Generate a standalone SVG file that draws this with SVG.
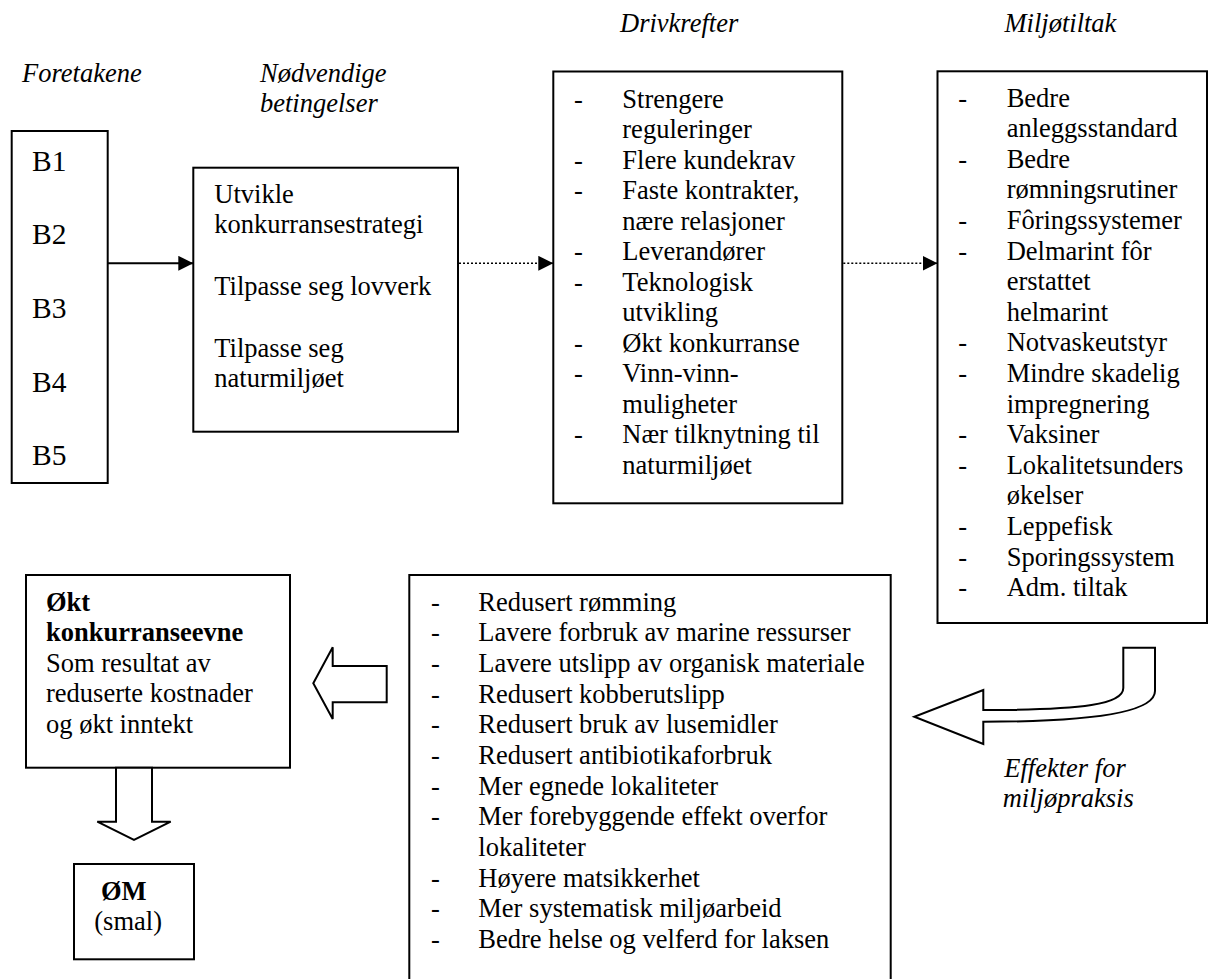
<svg xmlns="http://www.w3.org/2000/svg" width="1208" height="979" viewBox="0 0 1208 979">
<defs>
<style>
text{font-family:'Liberation Serif','Tinos','Times New Roman',Times,'DejaVu Serif',serif;font-size:26.5px;fill:#000}
.it{font-style:italic}
.b{font-weight:bold}
.big{font-size:29.5px}
.box{fill:#fff;stroke:#000;stroke-width:2}
.solid{stroke:#000;stroke-width:2;fill:none}
.dot{stroke:#000;stroke-width:1.6;stroke-dasharray:2 2;fill:none}
.blk{fill:#fff;stroke:#000;stroke-width:2;stroke-linejoin:miter}
</style>
<marker id="ah" markerUnits="userSpaceOnUse" markerWidth="16" markerHeight="16" refX="15" refY="7.5" orient="auto">
<path d="M0,0 L15,7.5 L0,15 Z" fill="#000"/>
</marker>
</defs>
<rect width="1208" height="979" fill="#fff"/>
<g font-family="Liberation Serif, Times New Roman, serif">
<g id="headers">
<text class="it" x="22" y="81.7">Foretakene</text>
<text class="it" x="260" y="81.7">Nødvendige</text>
<text class="it" x="260" y="111.7">betingelser</text>
<text class="it" x="620" y="32">Drivkrefter</text>
<text class="it" x="1004.5" y="32">Miljøtiltak</text>
<text class="it" x="1004.3" y="776.7">Effekter for</text>
<text class="it" x="1002.7" y="806.7">miljøpraksis</text>
</g>

<g id="foretakene">
<rect class="box" x="11.7" y="131" width="96" height="352"/>
<text class="big" x="32" y="170.7">B1</text>
<text class="big" x="32" y="244.3">B2</text>
<text class="big" x="32" y="318">B3</text>
<text class="big" x="32" y="391.7">B4</text>
<text class="big" x="32" y="465">B5</text>
</g>

<g id="betingelser">
<rect class="box" x="193.3" y="167.7" width="264.7" height="264"/>
<text x="214.3" y="203.3">Utvikle</text>
<text x="214.3" y="233.3">konkurransestrategi</text>
<text x="214.3" y="295">Tilpasse seg lovverk</text>
<text x="214.3" y="356.7">Tilpasse seg</text>
<text x="214.3" y="387.3">naturmiljøet</text>
</g>

<g id="drivkrefter">
<rect class="box" x="553.3" y="71.5" width="289" height="431.8"/>
<text x="574" y="107.8">-</text><text x="622.3" y="107.8">Strengere</text>
<text x="622.3" y="138.3">reguleringer</text>
<text x="574" y="168.8">-</text><text x="622.3" y="168.8">Flere kundekrav</text>
<text x="574" y="199.3">-</text><text x="622.3" y="199.3">Faste kontrakter,</text>
<text x="622.3" y="229.8">nære relasjoner</text>
<text x="574" y="260.3">-</text><text x="622.3" y="260.3">Leverandører</text>
<text x="574" y="290.8">-</text><text x="622.3" y="290.8">Teknologisk</text>
<text x="622.3" y="321.3">utvikling</text>
<text x="574" y="351.8">-</text><text x="622.3" y="351.8">Økt konkurranse</text>
<text x="574" y="382.3">-</text><text x="622.3" y="382.3">Vinn-vinn-</text>
<text x="622.3" y="412.8">muligheter</text>
<text x="574" y="443.3">-</text><text x="622.3" y="443.3">Nær tilknytning til</text>
<text x="622.3" y="473.8">naturmiljøet</text>
</g>

<g id="miljotiltak">
<rect class="box" x="937.5" y="71.3" width="269.5" height="551.7"/>
<text x="958.3" y="106.5">-</text><text x="1006.7" y="106.5">Bedre</text>
<text x="1006.7" y="137.1">anleggsstandard</text>
<text x="958.3" y="167.7">-</text><text x="1006.7" y="167.7">Bedre</text>
<text x="1006.7" y="198.3">rømningsrutiner</text>
<text x="958.3" y="228.9">-</text><text x="1006.7" y="228.9">Fôringssystemer</text>
<text x="958.3" y="259.5">-</text><text x="1006.7" y="259.5">Delmarint fôr</text>
<text x="1006.7" y="290.1">erstattet</text>
<text x="1006.7" y="320.7">helmarint</text>
<text x="958.3" y="351.3">-</text><text x="1006.7" y="351.3">Notvaskeutstyr</text>
<text x="958.3" y="381.9">-</text><text x="1006.7" y="381.9">Mindre skadelig</text>
<text x="1006.7" y="412.5">impregnering</text>
<text x="958.3" y="443.1">-</text><text x="1006.7" y="443.1">Vaksiner</text>
<text x="958.3" y="473.7">-</text><text x="1006.7" y="473.7">Lokalitetsunders</text>
<text x="1006.7" y="504.3">økelser</text>
<text x="958.3" y="534.9">-</text><text x="1006.7" y="534.9">Leppefisk</text>
<text x="958.3" y="565.5">-</text><text x="1006.7" y="565.5">Sporingssystem</text>
<text x="958.3" y="596.1">-</text><text x="1006.7" y="596.1">Adm. tiltak</text>
</g>

<g id="effekter">
<rect class="box" x="409.3" y="575" width="481.4" height="420"/>
<text x="431" y="610.7">-</text><text x="478.3" y="610.7">Redusert rømming</text>
<text x="431" y="641.4">-</text><text x="478.3" y="641.4">Lavere forbruk av marine ressurser</text>
<text x="431" y="672">-</text><text x="478.3" y="672">Lavere utslipp av organisk materiale</text>
<text x="431" y="702.7">-</text><text x="478.3" y="702.7">Redusert kobberutslipp</text>
<text x="431" y="733.3">-</text><text x="478.3" y="733.3">Redusert bruk av lusemidler</text>
<text x="431" y="764">-</text><text x="478.3" y="764">Redusert antibiotikaforbruk</text>
<text x="431" y="794.7">-</text><text x="478.3" y="794.7">Mer egnede lokaliteter</text>
<text x="431" y="825.3">-</text><text x="478.3" y="825.3">Mer forebyggende effekt overfor</text>
<text x="478.3" y="856">lokaliteter</text>
<text x="431" y="886.6">-</text><text x="478.3" y="886.6">Høyere matsikkerhet</text>
<text x="431" y="917.3">-</text><text x="478.3" y="917.3">Mer systematisk miljøarbeid</text>
<text x="431" y="948">-</text><text x="478.3" y="948">Bedre helse og velferd for laksen</text>
</g>

<g id="konkurranseevne">
<rect class="box" x="26" y="575" width="264" height="192.7"/>
<text class="b" x="46" y="610.7">Økt</text>
<text class="b" x="46" y="641">konkurranseevne</text>
<text x="46" y="671.7">Som resultat av</text>
<text x="46" y="702.3">reduserte kostnader</text>
<text x="46" y="733.3">og økt inntekt</text>
</g>

<g id="om">
<rect class="box" x="74" y="864" width="120" height="95.3"/>
<text class="b" x="101" y="900">ØM</text>
<text x="94.3" y="930">(smal)</text>
</g>
</g>
<g id="connectors">
<line class="solid" x1="107.7" y1="263.3" x2="193.3" y2="263.3" marker-end="url(#ah)"/>
<line class="dot" x1="459" y1="263.3" x2="553.3" y2="263.3" marker-end="url(#ah)"/>
<line class="dot" x1="843.3" y1="263.3" x2="937.5" y2="263.3" marker-end="url(#ah)"/>
<path class="blk" d="M1123.3,647.7 L1155,647.7 L1155,691 C1155,713 1090,721.7 983.3,721.7 L983.3,744 L914.3,716.7 L983.3,690 L983.3,710 C1085,710 1123.3,704 1123.3,688 Z"/>
<polygon class="blk" points="313.3,683.3 332.7,647.3 332.7,666 386.7,666 386.7,702.3 332.7,702.3 332.7,719"/>
<polygon class="blk" points="116,767.7 116,821.7 97.3,821.7 134,840 170.7,821.7 152,821.7 152,767.7"/>
</g>
</svg>
